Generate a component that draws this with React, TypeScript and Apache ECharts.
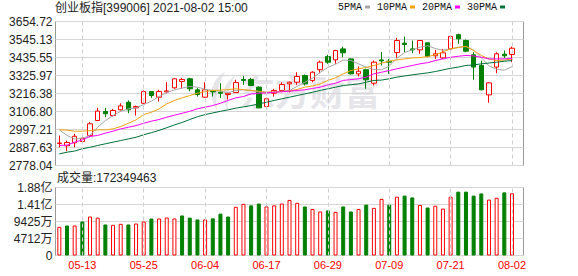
import React, { useEffect, useRef } from "react";
import * as echarts from "echarts";

// ---------- data ----------
const dates = [
  "05-10","05-11","05-12","05-13","05-14","05-17","05-18","05-19","05-20","05-21",
  "05-24","05-25","05-26","05-27","05-28","05-31","06-01","06-02","06-03","06-04",
  "06-07","06-08","06-09","06-10","06-11","06-15","06-16","06-17","06-18","06-21",
  "06-22","06-23","06-24","06-25","06-28","06-29","06-30","07-01","07-02","07-05",
  "07-06","07-07","07-08","07-09","07-12","07-13","07-14","07-15","07-16","07-19",
  "07-20","07-21","07-22","07-23","07-26","07-27","07-28","07-29","07-30","08-02",
];
const labelDates = ["05-13", "05-25", "06-04", "06-17", "06-29", "07-09", "07-21", "08-02"];

const opens = [
  2912, 2898, 2916, 2924, 2961, 3052, 3107, 3082, 3117, 3163,
  3129, 3157, 3228, 3194, 3226, 3251, 3290, 3306, 3239, 3194,
  3232, 3224, 3210, 3222, 3302, 3302, 3255, 3137, 3218, 3235,
  3275, 3285, 3326, 3296, 3361, 3441, 3421, 3488, 3427, 3336,
  3361, 3279, 3421, 3413, 3466, 3523, 3488, 3482, 3525, 3446,
  3433, 3488, 3575, 3539, 3452, 3387, 3208, 3377, 3456, 3454,
];
const closes = [
  2915, 2918, 2956, 2944, 3032, 3109, 3093, 3113, 3141, 3117,
  3137, 3228, 3204, 3228, 3232, 3306, 3302, 3245, 3210, 3239,
  3226, 3218, 3218, 3283, 3296, 3265, 3129, 3184, 3235, 3271,
  3285, 3320, 3275, 3346, 3407, 3407, 3478, 3464, 3336, 3352,
  3300, 3407, 3415, 3407, 3539, 3515, 3482, 3539, 3443, 3458,
  3464, 3563, 3549, 3474, 3377, 3239, 3281, 3458, 3446, 3492,
];
const lows = [
  2889, 2865, 2889, 2916, 2950, 3052, 3072, 3076, 3113, 3096,
  3082, 3153, 3190, 3168, 3218, 3245, 3245, 3230, 3198, 3190,
  3198, 3188, 3180, 3222, 3269, 3261, 3127, 3129, 3198, 3224,
  3224, 3269, 3265, 3285, 3340, 3397, 3397, 3437, 3332, 3320,
  3245, 3265, 3387, 3336, 3433, 3468, 3462, 3458, 3437, 3427,
  3427, 3478, 3519, 3468, 3300, 3235, 3160, 3340, 3433, 3407,
];
const highs = [
  2960, 2930, 2971, 2965, 3042, 3129, 3129, 3123, 3157, 3174,
  3143, 3235, 3229, 3239, 3285, 3307, 3312, 3312, 3249, 3285,
  3239, 3279, 3224, 3300, 3322, 3312, 3261, 3190, 3245, 3285,
  3289, 3346, 3332, 3352, 3417, 3452, 3482, 3502, 3431, 3381,
  3367, 3417, 3468, 3427, 3555, 3563, 3539, 3540, 3527, 3482,
  3488, 3570, 3580, 3545, 3468, 3417, 3285, 3468, 3478, 3502,
];

const ma5 = [
  2995, 2961, 2940, 2944, 2961, 3011, 3052, 3082, 3108, 3123,
  3129, 3149, 3170, 3198, 3222, 3239, 3249, 3259, 3255, 3242,
  3235, 3230, 3222, 3235, 3239, 3235, 3226, 3220, 3224, 3230,
  3234, 3260, 3285, 3310, 3345, 3375, 3395, 3420, 3417, 3397,
  3377, 3362, 3361, 3383, 3431, 3466, 3482, 3498, 3507, 3490,
  3480, 3488, 3498, 3502, 3480, 3435, 3384, 3364, 3358, 3380,
];
const ma10 = [
  2995, 2993, 2987, 2987, 2990, 2995, 2995, 3001, 3015, 3035,
  3056, 3088, 3102, 3123, 3153, 3174, 3190, 3204, 3218, 3228,
  3235, 3237, 3240, 3245, 3240, 3235, 3230, 3224, 3226, 3228,
  3232, 3241, 3255, 3262, 3275, 3296, 3312, 3336, 3356, 3367,
  3375, 3387, 3401, 3413, 3421, 3427, 3433, 3435, 3441, 3452,
  3470, 3488, 3496, 3504, 3478, 3448, 3427, 3417, 3420, 3427,
];
const ma20 = [
  2900, 2902, 2920, 2934, 2955, 2961, 2975, 2987, 3001, 3011,
  3021, 3035, 3048, 3058, 3072, 3084, 3096, 3108, 3123, 3133,
  3143, 3157, 3174, 3190, 3198, 3214, 3218, 3220, 3224, 3227,
  3230, 3235, 3239, 3247, 3255, 3269, 3279, 3296, 3301, 3306,
  3316, 3336, 3346, 3356, 3367, 3377, 3387, 3397, 3404, 3417,
  3427, 3437, 3443, 3448, 3445, 3437, 3427, 3427, 3427, 3430,
];
const ma30 = [
  2849, 2859, 2866, 2880, 2889, 2900, 2910, 2920, 2930, 2940,
  2950, 2965, 2978, 2992, 3008, 3025, 3040, 3058, 3075, 3088,
  3098, 3108, 3117, 3127, 3135, 3143, 3153, 3163, 3174, 3184,
  3194, 3204, 3214, 3224, 3235, 3245, 3255, 3265, 3270, 3275,
  3285, 3296, 3298, 3306, 3316, 3323, 3330, 3336, 3342, 3350,
  3360, 3370, 3377, 3387, 3390, 3397, 3402, 3407, 3413, 3417,
];

const volumes = [
  79500000, 83200000, 83200000, 94200000, 108000000, 105000000, 86000000, 85000000, 87800000, 86000000,
  88700000, 94200000, 102600000, 102600000, 105300000, 102600000, 111000000, 105000000, 100000000, 100000000,
  103000000, 116000000, 108000000, 135000000, 143000000, 139000000, 144000000, 136000000, 139000000, 144000000,
  154000000, 146000000, 136000000, 129000000, 122000000, 125000000, 121000000, 136000000, 122000000, 129000000,
  141000000, 132000000, 157000000, 141000000, 163000000, 166000000, 161000000, 140000000, 133000000, 138000000,
  130000000, 163000000, 177000000, 177000000, 166000000, 172000000, 155000000, 160000000, 175000000, 172349463,
];
// 1 = red (up), 0 = green (down)
const volUp = [
  1, 0, 1, 0, 1, 1, 0, 1, 1, 0,
  1, 1, 0, 1, 1, 1, 0, 0, 0, 1,
  0, 0, 0, 1, 1, 0, 0, 1, 1, 1,
  1, 1, 0, 1, 1, 0, 1, 0, 0, 1,
  0, 1, 1, 0, 1, 0, 0, 1, 0, 1,
  1, 1, 0, 0, 0, 0, 1, 1, 0, 1,
];

const priceTicks = ["2778.04", "2887.63", "2997.21", "3106.80", "3216.38", "3325.97", "3435.55", "3545.13", "3654.72"];
const priceMin = 2778.04;
const priceMax = 3654.72;
const volTicks = ["0", "4712万", "9425万", "1.41亿", "1.88亿"];
const volInterval = 47125000;

const titleText = "创业板指[399006] 2021-08-02 15:00";
const volTitlePrefix = "成交量:";
const watermarkText = "东方财富";

const maNames = ["5PMA", "10PMA", "20PMA", "30PMA"];
const maColors = ["#a6a6a6", "#f2a20c", "#ff00ff", "#00723a"];

// ---------- chart ----------
const RED = "#ff0000";
const GREEN = "#008000";
const FONT = '"Liberation Sans", Arial, "Noto Sans CJK SC", sans-serif';
const WM = "#e6e6ea";

echarts.graphic.registerShape(
  "dfcfLogo",
  echarts.graphic.extendPath(
    "M18 0 C4 8 0 24 10 38 C8 26 10 14 18 0 Z M28 4 C15 12 13 26 21 38 C20 28 21 16 28 4 Z",
    {}
  ) as any
);

export default function App() {
  const ref = useRef<HTMLDivElement>(null);

  useEffect(() => {
    document.body.style.margin = "0";
    if (!ref.current) return;
    const chart = echarts.init(ref.current, undefined, { renderer: "svg" });

    const gridLeft = 55.5;
    const gridWidth = 468;
    const dashLines = labelDates.map((d) => ({ xAxis: d }));
    const markLineStyle = {
      silent: true,
      symbol: "none",
      label: { show: false },
      lineStyle: { type: [4, 3], color: "#cfcfcf", width: 1 },
      emphasis: { disabled: true },
      data: dashLines,
    };

    const mas = [ma5, ma10, ma20, ma30];

    const option: any = {
      animation: false,
      textStyle: { fontFamily: FONT },
      legend: {
        data: maNames,
        left: 338,
        top: 2,
        padding: 0,
        align: "right",
        icon: "rect",
        itemWidth: 5,
        itemHeight: 3,
        itemGap: 7,
        selectedMode: false,
        textStyle: { fontSize: 10, color: "#111", fontFamily: '"Liberation Mono", monospace', padding: [0, -2, 0, 0] },
      },
      graphic: [
        {
          type: "text",
          x: 55,
          y: 8,
          silent: true,
          style: {
            text: titleText,
            font: '12px "Liberation Sans", Arial, "Noto Sans CJK SC"',
            fill: "#222",
            verticalAlign: "middle",
            align: "left",
          },
        },
        {
          type: "text",
          x: 57,
          y: 177.5,
          silent: true,
          style: {
            text: volTitlePrefix + volumes[volumes.length - 1],
            font: '12px "Liberation Sans", Arial, "Noto Sans CJK SC"',
            fill: "#222",
            verticalAlign: "middle",
            align: "left",
          },
        },
        {
          type: "dfcfLogo",
          x: 207,
          y: 72,
          scaleX: 1,
          scaleY: 1,
          z: 0,
          silent: true,
          style: { fill: WM },
        },
        {
          type: "text",
          x: 240,
          y: 90,
          z: 0,
          silent: true,
          style: {
            text: watermarkText,
            font: 'bold 35px "Noto Sans CJK SC"',
            fill: WM,
            verticalAlign: "middle",
            align: "left",
          },
        },
      ],
      grid: [
        { left: gridLeft, top: 21.5, width: gridWidth, height: 144, show: true, borderColor: "#9a9a9a", borderWidth: 1, backgroundColor: "transparent" },
        { left: gridLeft, top: 187.5, width: gridWidth, height: 68, show: true, borderColor: "#9a9a9a", borderWidth: 1, backgroundColor: "transparent" },
      ],
      xAxis: [
        {
          gridIndex: 0,
          type: "category",
          data: dates,
          max: dates.length,
          boundaryGap: true,
          axisLine: { show: false },
          axisTick: { show: false },
          axisLabel: { show: false },
          splitLine: { show: false },
        },
        {
          gridIndex: 1,
          type: "category",
          data: dates,
          max: dates.length,
          boundaryGap: true,
          axisLine: { show: false },
          axisTick: { show: false },
          axisLabel: {
            show: true,
            color: RED,
            fontSize: 11,
            margin: 4,
            fontFamily: FONT,
            interval: (_i: number, v: string) => labelDates.includes(v),
          },
          splitLine: { show: false },
        },
      ],
      yAxis: [
        { gridIndex: 0, type: "value", min: priceMin, max: priceMax, show: false, position: "left", splitLine: { show: false } },
        {
          gridIndex: 0,
          type: "value",
          min: 0,
          max: priceTicks.length - 1,
          interval: 1,
          position: "left",
          axisLine: { show: false },
          axisTick: { show: false },
          axisLabel: {
            color: "#222",
            fontSize: 12,
            margin: 3,
            fontFamily: FONT,
            formatter: (v: number) => priceTicks[Math.round(v)],
          },
          splitLine: { show: true, lineStyle: { color: "#d6d6d6", width: 1 } },
        },
        {
          gridIndex: 1,
          type: "value",
          min: 0,
          max: volInterval * (volTicks.length - 1),
          interval: volInterval,
          position: "left",
          axisLine: { show: false },
          axisTick: { show: false },
          axisLabel: {
            color: "#222",
            fontSize: 12,
            margin: 3,
            fontFamily: FONT,
            formatter: (v: number) => volTicks[Math.round(v / volInterval)],
          },
          splitLine: { show: true, lineStyle: { color: "#d6d6d6", width: 1 } },
        },
      ],
      series: [
        {
          name: "K",
          type: "candlestick",
          xAxisIndex: 0,
          yAxisIndex: 0,
          barWidth: 5,
          data: dates.map((_, i) => [opens[i], closes[i], lows[i], highs[i]]),
          itemStyle: {
            color: "#ffffff",
            color0: GREEN,
            borderColor: RED,
            borderColor0: GREEN,
            borderWidth: 1,
          },
          markLine: markLineStyle,
        },
        ...maNames.map((n, k) => ({
          name: n,
          type: "line",
          xAxisIndex: 0,
          yAxisIndex: 0,
          data: mas[k],
          showSymbol: false,
          symbol: "none",
          color: maColors[k],
          lineStyle: { width: 1, color: maColors[k] },
          emphasis: { disabled: true },
        })),
        {
          name: "VOL",
          type: "bar",
          xAxisIndex: 1,
          yAxisIndex: 2,
          barWidth: 4,
          data: volumes.map((v, i) => ({
            value: v,
            itemStyle: volUp[i]
              ? { color: "#ffffff", borderColor: RED, borderWidth: 1 }
              : { color: GREEN, borderColor: GREEN, borderWidth: 1 },
          })),
          markLine: markLineStyle,
        },
      ],
    };

    chart.setOption(option);
    return () => chart.dispose();
  }, []);

  return <div ref={ref} style={{ width: 578, height: 276 }} />;
}
